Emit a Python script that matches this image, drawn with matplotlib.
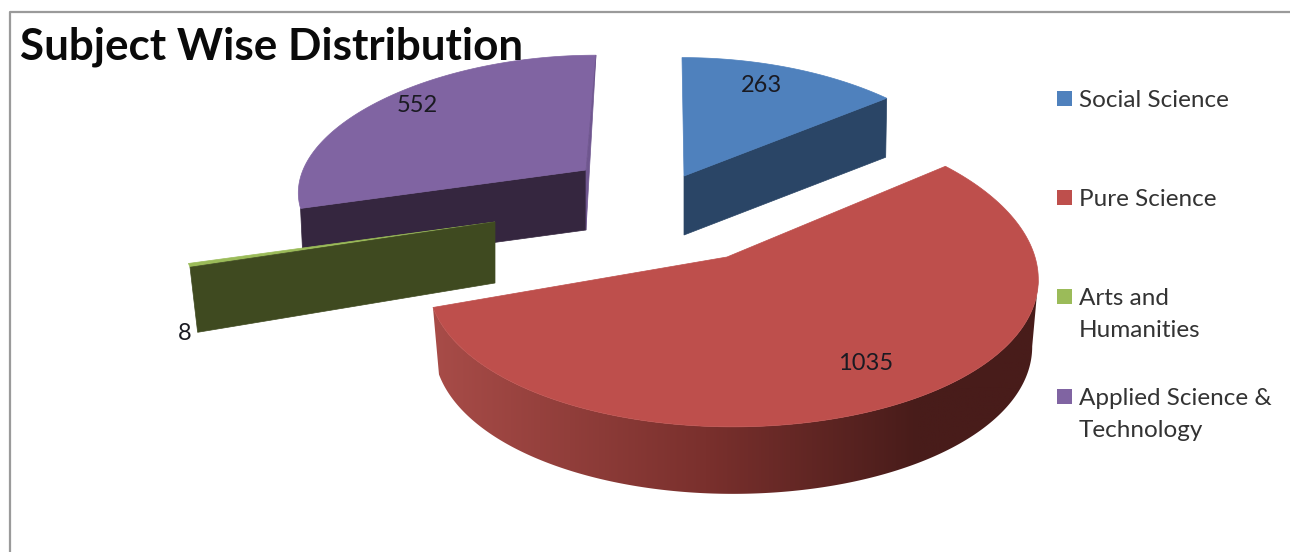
import numpy as np
import matplotlib
matplotlib.use('Agg')
import matplotlib.pyplot as plt
from matplotlib.colors import to_rgb
from matplotlib.patches import Polygon, Rectangle

categories = ['Social Science', 'Pure Science', 'Arts and\nHumanities', 'Applied Science &\nTechnology']
values = [263, 1035, 8, 552]

top_colors = ['#4F81BD', '#BE4F4C', '#9BBB59', '#8064A2']
side_colors = ['#2A4566', '#7A302D', '#3F4A20', '#35263F']

# placement of each exploded slice on the canvas (pixels)
centre_x = [684, 733, 495, 586]
centre_y = [176, 257, 222, 170]
apex_x = [684, 727, 495, 586]
radius_x = [290, 302, 307, 283]
radius_y = [132, 154, 138, 128]
depth = [59, 67, 61, 60]
lean = [-2, 0, 0, 10]
bottom_x = [0.995, 0.98, 0.975, 0.99]
bottom_y = [1.0, 1.0, 1.09, 1.0]

label_pos = [(761, 86), (866, 363), (185, 334), (417, 105)]
legend_y = [98, 197, 296, 396]

kx, ky = 0.15, 0.103   # fake perspective

plt.rcParams['font.family'] = ['Lato', 'DejaVu Sans']

fig = plt.figure(figsize=(12.9, 5.52), dpi=100)
ax = fig.add_axes([0, 0, 1, 1])
ax.axis('off')

# chart frame
ax.plot([10, 10, 1290], [552, 12, 12], color='#9A9A9A', lw=1.6, solid_capstyle='butt')

total = sum(values)
edges = np.radians(np.cumsum([0] + values) / total * 360)


def rim(i, theta, low=False):
    s, c = np.sin(theta), np.cos(theta)
    dx = radius_x[i] * s * (1 - kx * c) + lean[i] * c
    dy = -radius_y[i] * c * (1 - ky * c)
    if low:
        return centre_x[i] + dx * bottom_x[i], centre_y[i] + dy * bottom_y[i] + depth[i]
    return centre_x[i] + dx, centre_y[i] + dy


def top_face(i):
    th = np.linspace(edges[i], edges[i + 1], 160)
    x, y = rim(i, th)
    pts = np.column_stack([x, y])
    return np.vstack([[apex_x[i], centre_y[i]], pts])


def cut_face(i, theta):
    x0, y0 = rim(i, theta)
    x1, y1 = rim(i, theta, low=True)
    cx, cy = apex_x[i], centre_y[i]
    return [(cx, cy), (x0, y0), (x1, y1), (cx, cy + depth[i])]


# purple first, it sits behind the green one
ax.add_patch(Polygon(cut_face(3, edges[3]), color=side_colors[3], lw=0.5, zorder=2))
ax.add_patch(Polygon(top_face(3), color=top_colors[3], lw=0.5, zorder=3))
xe, ye = rim(3, edges[4])
ax.add_patch(Polygon([(xe, ye), (apex_x[3], centre_y[3]), (apex_x[3], centre_y[3] + depth[3])],
                     color='#6F568F', lw=0.5, zorder=3))

# blue
ax.add_patch(Polygon(cut_face(0, edges[1]), color=side_colors[0], lw=0.5, zorder=2))
ax.add_patch(Polygon(top_face(0), color=top_colors[0], lw=0.5, zorder=3))

# red, outer wall with a left to right gradient clipped to the wall shape
th = np.linspace(edges[1], edges[2], 400)
th = th[np.argmax(rim(1, th)[0]):]
up_x, up_y = rim(1, th)
lo_x, lo_y = rim(1, th, low=True)
wall = Polygon(np.vstack([np.column_stack([up_x, up_y]), np.column_stack([lo_x, lo_y])[::-1]]),
               facecolor='none', edgecolor='none', zorder=2)
ax.add_patch(wall)
x0, x1 = min(up_x.min(), lo_x.min()), max(up_x.max(), lo_x.max())
stops = [0, 0.45, 0.8, 1]
shades = np.array([to_rgb(c) for c in ['#A84C48', '#7A302D', '#481C1A', '#481C1A']])
t = np.linspace(0, 1, 600)
grad = np.stack([np.interp(t, stops, shades[:, k]) for k in range(3)], axis=1)[None, :, :]
im = ax.imshow(grad, extent=(x0, x1, lo_y.max(), up_y.min()), aspect='auto', zorder=2)
im.set_clip_path(wall)
ax.add_patch(Polygon(top_face(1), color=top_colors[1], lw=0.5, zorder=3))

# green sliver on top of the purple wall
ax.add_patch(Polygon(top_face(2), color=top_colors[2], lw=0.5, zorder=4))
ax.add_patch(Polygon(cut_face(2, edges[2]), color=side_colors[2], lw=0.5, zorder=4))

# value labels
for v, (x, y) in zip(values, label_pos):
    ax.text(x, y, str(v), fontsize=17, color='#1A1A22', ha='center', va='center', zorder=6)

ax.text(20, 47, 'Subject Wise Distribution', fontsize=31.7, fontweight='bold', color='#0A0A0A',
        ha='left', va='center', zorder=7)

# legend
for name, col, y in zip(categories, top_colors, legend_y):
    ax.add_patch(Rectangle((1057, y - 7), 15, 15, facecolor=col, edgecolor='none', zorder=5))
    ax.text(1079, y - 8, name, fontsize=17.5, color='#333333', ha='left', va='top', linespacing=1.63, zorder=5)

ax.set_xlim(0, 1290)
ax.set_ylim(552, 0)

fig.savefig('out.png', dpi=100)
